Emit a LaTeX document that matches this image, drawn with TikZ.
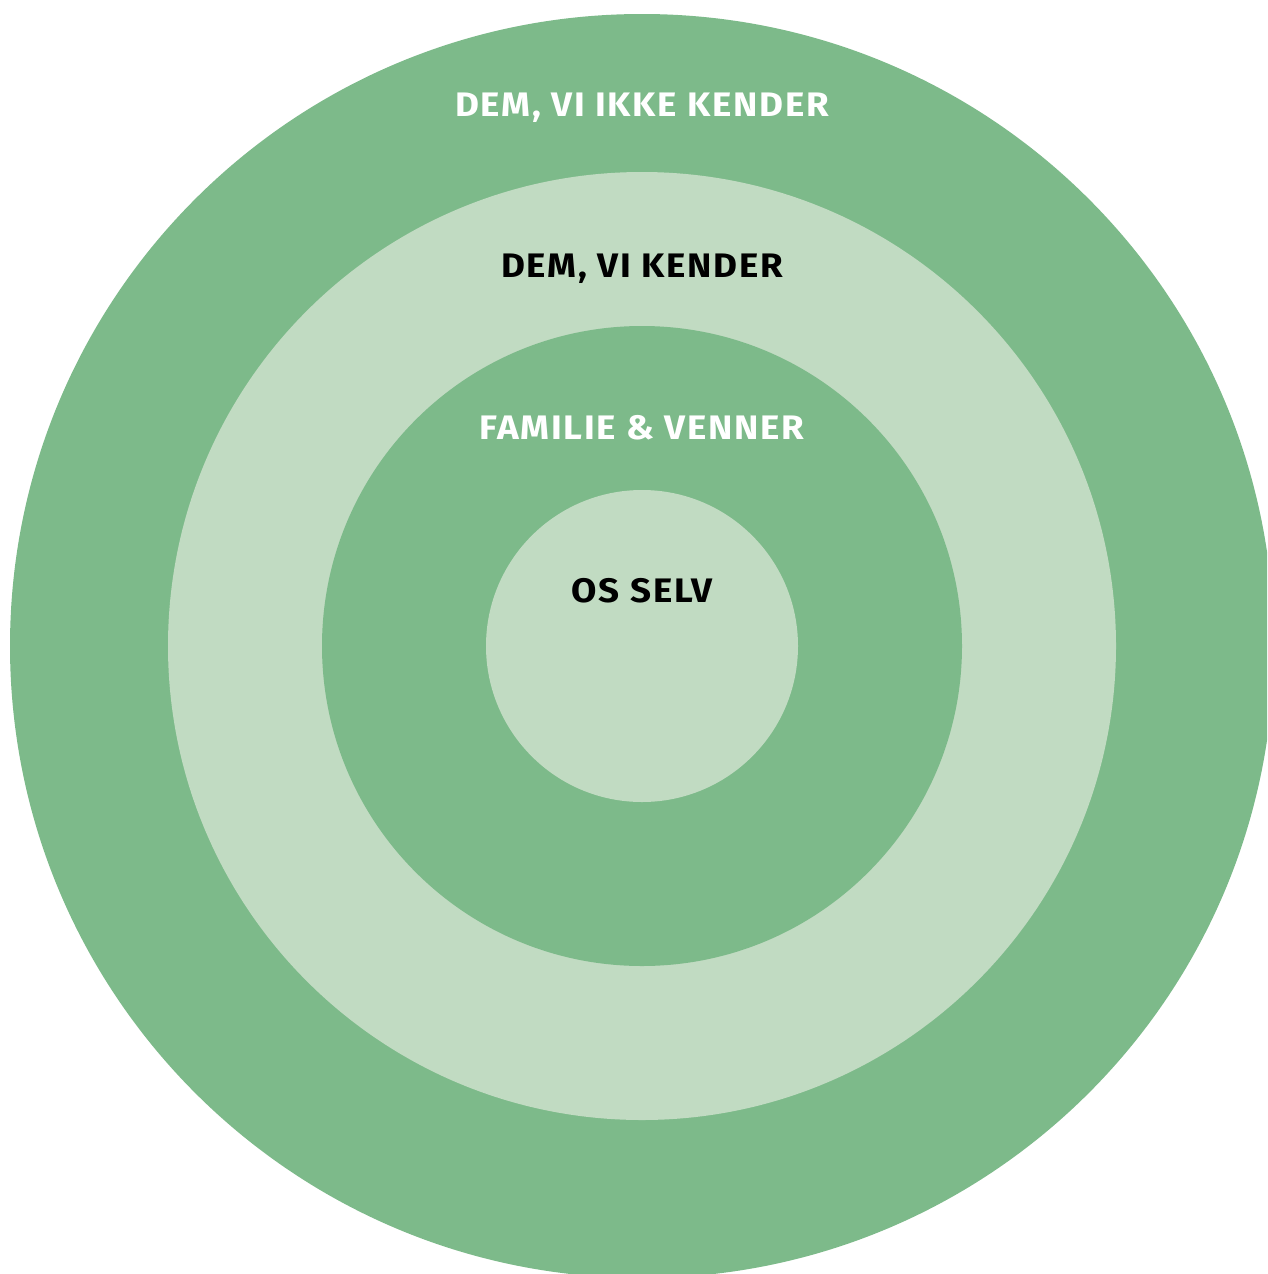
\documentclass[tikz,border=0pt]{standalone}
\usepackage{fontspec}
\setmainfont{Fira Sans}[LetterSpace=5,FakeStretch=1.08]
\definecolor{ringdark}{HTML}{7DBA8A}
\definecolor{ringlight}{HTML}{C1DBC2}
\begin{document}
\begin{tikzpicture}[x=1pt,y=-1pt,
  lbl/.style={anchor=base,inner sep=0pt,font=\fontsize{34}{40}\selectfont\bfseries}]
\useasboundingbox (0,0) rectangle (1267,1274);
\clip (0,0) rectangle (1267,1274);
\fill[ringdark] (642,646) circle (632);
\fill[ringlight] (642,646) circle (474);
\fill[ringdark] (642,646) circle (320);
\fill[ringlight] (642,646) circle (156);
\node[lbl,text=white] (l1) at (642,116) {DEM, VI IKKE KENDER};
\node[lbl,text=black] (l2) at (642,277) {DEM, VI KENDER};
\node[lbl,text=white] (l3) at (642,439) {FAMILIE \& VENNER};
\node[lbl,text=black] (l4) at (642,602) {OS SELV};
\end{tikzpicture}
\end{document}
